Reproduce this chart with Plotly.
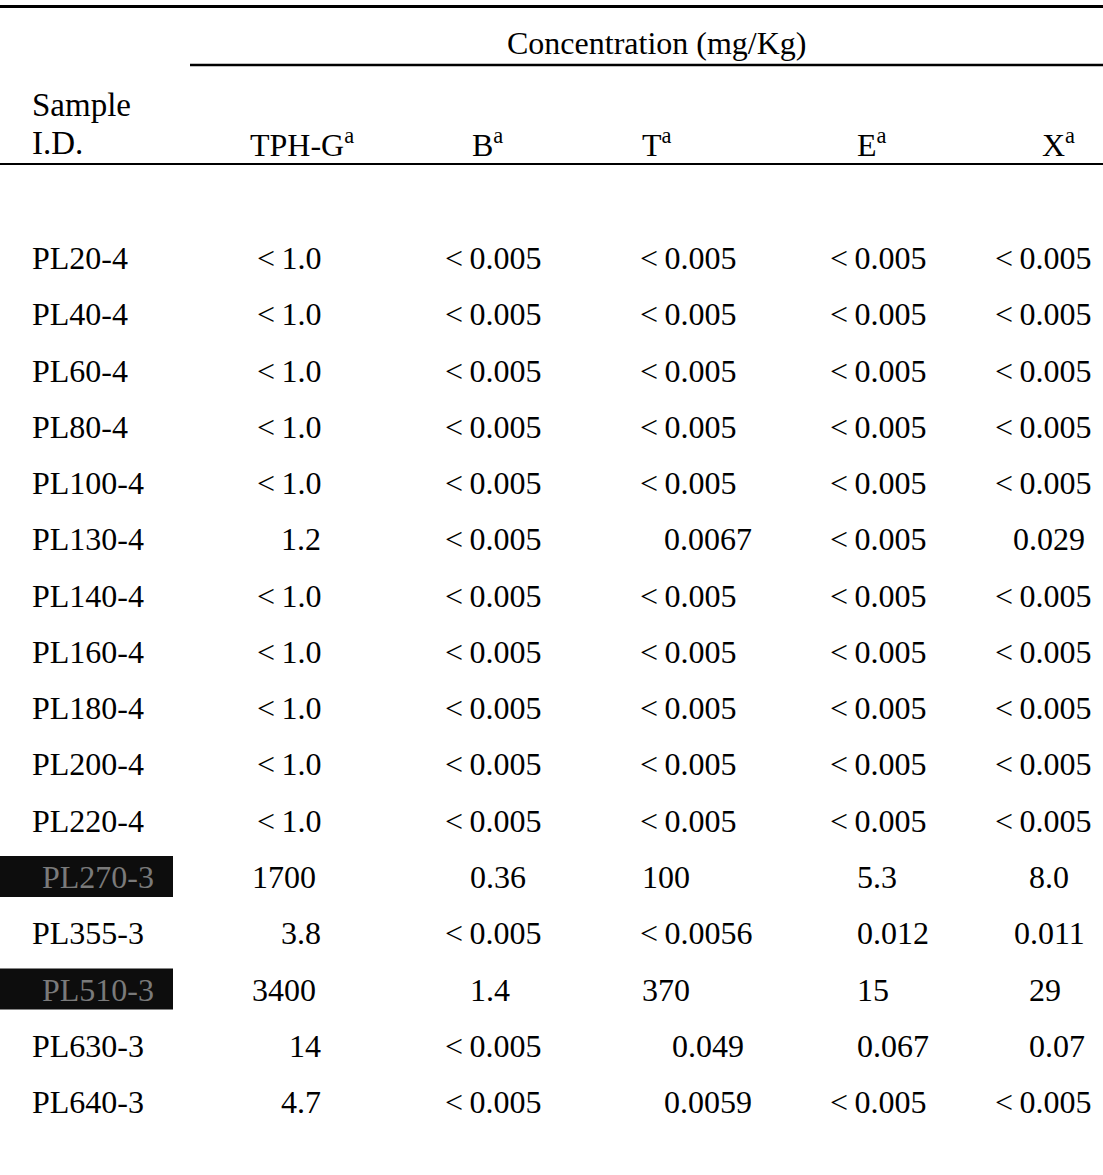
import plotly.graph_objects as go

# ---- data ----
sample_ids = ["PL20-4", "PL40-4", "PL60-4", "PL80-4", "PL100-4", "PL130-4", "PL140-4",
              "PL160-4", "PL180-4", "PL200-4", "PL220-4", "PL270-3", "PL355-3",
              "PL510-3", "PL630-3", "PL640-3"]
redacted = [False, False, False, False, False, False, False, False, False, False, False,
            True, False, True, False, False]
tph_g = ["<1.0", "<1.0", "<1.0", "<1.0", "<1.0", "1.2", "<1.0", "<1.0", "<1.0", "<1.0",
         "<1.0", "1700", "3.8", "3400", "14", "4.7"]
benzene = ["<0.005", "<0.005", "<0.005", "<0.005", "<0.005", "<0.005", "<0.005", "<0.005",
           "<0.005", "<0.005", "<0.005", "0.36", "<0.005", "1.4", "<0.005", "<0.005"]
toluene = ["<0.005", "<0.005", "<0.005", "<0.005", "<0.005", "0.0067", "<0.005", "<0.005",
           "<0.005", "<0.005", "<0.005", "100", "<0.0056", "370", "0.049", "0.0059"]
ethylbenzene = ["<0.005", "<0.005", "<0.005", "<0.005", "<0.005", "<0.005", "<0.005",
                "<0.005", "<0.005", "<0.005", "<0.005", "5.3", "0.012", "15", "0.067",
                "<0.005"]
xylenes = ["<0.005", "<0.005", "<0.005", "<0.005", "<0.005", "0.029", "<0.005", "<0.005",
           "<0.005", "<0.005", "<0.005", "8.0", "0.011", "29", "0.07", "<0.005"]
column_headers = ["TPH-G", "B", "T", "E", "X"]
group_title = "Concentration (mg/Kg)"
id_header = ["Sample", "I.D."]

# ---- layout (page pixel space) ----
W, H = 1103, 1175
FONT = "Liberation Serif"
FS = 32
ROW0, ROW_STEP = 258, 56.27
ID_X = 30
# per column: (anchor, x) for "<" values, plain values, redacted-row values
col_style = [
    {"lt": ("right", 323), "num": ("right", 323), "hi": ("left", 250), "head": 248},
    {"lt": ("left", 443), "num": ("left", 468), "hi": ("left", 468), "head": 470},
    {"lt": ("left", 638), "num": ("center", 708), "hi": ("left", 640), "head": 640},
    {"lt": ("left", 828), "num": ("left", 855), "hi": ("left", 855), "head": 855},
    {"lt": ("left", 993), "num": ("right", 1087), "hi": ("left", 1027), "head": 1040},
]
columns = [tph_g, benzene, toluene, ethylbenzene, xylenes]

fig = go.Figure()
ann = []
shapes = []


def txt(x, y, s, anchor="left", color="black", size=FS):
    ann.append(dict(x=x, y=y, xref="x", yref="y", text=s, showarrow=False,
                    xanchor=anchor, yanchor="middle",
                    font=dict(family=FONT, size=size, color=color)))


def show(v):
    # a thin gap after the "<" sign, as typeset in the original
    return v.replace("<", "&lt;\u2009") if v.startswith("<") else v


# rules
shapes.append(dict(type="line", x0=0, x1=W, y0=6.5, y1=6.5, xref="x", yref="y",
                   line=dict(color="black", width=3)))
shapes.append(dict(type="line", x0=190, x1=W, y0=65, y1=65, xref="x", yref="y",
                   line=dict(color="black", width=2.5)))
shapes.append(dict(type="line", x0=0, x1=W, y0=164, y1=164, xref="x", yref="y",
                   line=dict(color="black", width=2)))

# headers
txt(656, 43, group_title, "center")
txt(ID_X, 105, id_header[0], size=33)
txt(ID_X, 143, id_header[1], size=33)
for c, h in enumerate(column_headers):
    txt(col_style[c]["head"], 143, h + "<sup>a</sup>")

# rows
for i, sid in enumerate(sample_ids):
    y = ROW0 + i * ROW_STEP
    if redacted[i]:
        shapes.append(dict(type="rect", x0=0, x1=173, y0=y - 21, y1=y + 20,
                           xref="x", yref="y", fillcolor="#0d0d0d",
                           line=dict(width=0), layer="below"))
        txt(40, y, sid, color="#7a7a7a")
    else:
        txt(ID_X, y, sid)
    for c, col in enumerate(columns):
        v = col[i]
        if redacted[i]:
            a, x = col_style[c]["hi"]
        elif v.startswith("<"):
            a, x = col_style[c]["lt"]
        else:
            a, x = col_style[c]["num"]
        txt(x, y, show(v), a)

fig.update_layout(
    width=W, height=H, margin=dict(l=0, r=0, t=0, b=0),
    paper_bgcolor="white", plot_bgcolor="white",
    xaxis=dict(range=[0, W], visible=False, fixedrange=True),
    yaxis=dict(range=[H, 0], visible=False, fixedrange=True),
    annotations=ann, shapes=shapes, showlegend=False,
)
fig.write_html(
    "out.html",
    config={"displayModeBar": False},
    post_script="document.body.style.margin='0';document.body.style.overflow='hidden';",
)
